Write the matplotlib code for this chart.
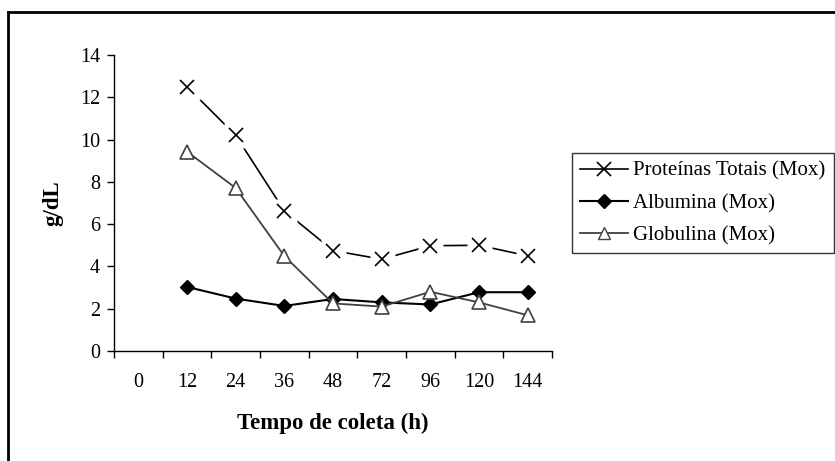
import matplotlib
matplotlib.use("Agg")
import matplotlib.pyplot as plt
from matplotlib.lines import Line2D

plt.rcParams['font.family'] = ['Liberation Serif', 'DejaVu Serif']

categorias = ['0', '12', '24', '36', '48', '72', '96', '120', '144']
horas = ['12', '24', '36', '48', '72', '96', '120', '144']
proteinas = [12.5, 10.2, 6.63, 4.75, 4.34, 4.98, 5.0, 4.5]
albumina = [3.03, 2.48, 2.13, 2.46, 2.3, 2.2, 2.78, 2.78]
globulina = [9.43, 7.71, 4.49, 2.25, 2.1, 2.8, 2.3, 1.69]

fig = plt.figure(figsize=(8.35, 4.61), dpi=100)
ax = fig.add_axes([114 / 835, 110 / 461, 438 / 835, 296 / 461])

x = [categorias.index(h) for h in horas]
gray = '#404040'

# proteinas: line with small gaps around the x markers
ax.plot(x, proteinas, color='black', lw=1.2, zorder=2)
ax.plot(x, proteinas, ls='none', marker='s', ms=18, mfc='white', mec='none', zorder=3)
ax.plot(x, proteinas, ls='none', marker='x', ms=10.5, mew=1.2, color='black', zorder=4)

ax.plot(x, albumina, color='black', lw=1.5, marker='D', ms=7.5, mfc='black', mec='black', zorder=5)
ax.plot(x, globulina, color=gray, lw=1.3, marker='^', ms=10, mfc='white', mec=gray, mew=1.2, zorder=6)

ax.set_xlim(-0.5, len(categorias) - 0.5)
ax.set_ylim(0, 14)
ax.set_yticks(range(0, 15, 2))
ax.set_xticks(range(len(categorias)))
ax.set_xticklabels(categorias)
ax.set_xticks([i - 0.5 for i in range(len(categorias) + 1)], minor=True)
ax.tick_params(axis='x', which='major', length=0, pad=16, labelsize=14.5)
ax.tick_params(axis='x', which='minor', length=5, width=1, direction='out')
ax.tick_params(axis='y', length=5, width=1, labelsize=14.5, pad=5)
for s in ['top', 'right']:
    ax.spines[s].set_visible(False)
for s in ['left', 'bottom']:
    ax.spines[s].set_linewidth(1)

ax.set_xlabel('Tempo de coleta (h)', fontsize=16.5, fontweight='bold', labelpad=15)
ax.set_ylabel('g/dL', fontsize=16.5, fontweight='bold', labelpad=12)

handles = [
    Line2D([], [], color='black', lw=1.2, marker='x', ms=10, mew=1.2),
    Line2D([], [], color='black', lw=1.5, marker='D', ms=7),
    Line2D([], [], color=gray, lw=1.3, marker='^', ms=9, mfc='white', mec=gray),
]
labels = ['Proteínas Totais (Mox)', 'Albumina (Mox)', 'Globulina (Mox)']
leg = fig.legend(handles, labels, loc='upper left', bbox_to_anchor=(572 / 835, 1 - 153 / 461),
                 fontsize=15, frameon=True, fancybox=False, edgecolor='black',
                 handlelength=2.3, handletextpad=0.25, borderpad=0.4, labelspacing=0.6,
                 borderaxespad=0)
leg.get_frame().set_linewidth(1)

# outer frame
fig.add_artist(Line2D([8 / 835, 8 / 835], [0, 1 - 12 / 461], color='black', lw=2, transform=fig.transFigure))
fig.add_artist(Line2D([8 / 835, 1], [1 - 12 / 461, 1 - 12 / 461], color='black', lw=2, transform=fig.transFigure))

fig.savefig('out.png', dpi=100)
